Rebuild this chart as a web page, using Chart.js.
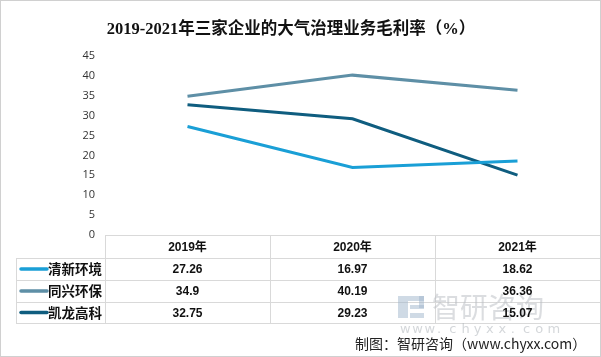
<!DOCTYPE html>
<html>
<head>
<meta charset="utf-8">
<script src="https://cdn.jsdelivr.net/npm/chart.js@4/dist/chart.umd.min.js"></script>
<style>
html,body{margin:0;padding:0;background:#fff;}
#wrap{position:relative;width:601px;height:357px;}
</style>
</head>
<body>
<div id="wrap"><canvas id="c" width="601" height="357"></canvas></div>
<script>
const titleText = '2019-2021年三家企业的大气治理业务毛利率（%）';
const categories = ['2019年', '2020年', '2021年'];
const seriesNames = ['清新环境', '同兴环保', '凯龙高科'];
const qingxin = [27.26, 16.97, 18.62];
const tongxing = [34.9, 40.19, 36.36];
const kailong = [32.75, 29.23, 15.07];
const tableLabels = [['27.26', '16.97', '18.62'], ['34.9', '40.19', '36.36'], ['32.75', '29.23', '15.07']];
const colors = ['#1a9fd6', '#5e8fa6', '#0f5d7f'];
const footerText = '制图：智研咨询（www.chyxx.com）';
const cjk = '"Noto Sans CJK SC", sans-serif';

const tablePlugin = {
  id: 'tablePlugin',
  afterDraw(chart) {
    const ctx = chart.ctx;
    const ca = chart.chartArea;
    const x = chart.scales.x;
    const left = 16, top = ca.bottom;
    const rowH = [23, 22, 22, 21];
    const ys = [top];
    rowH.forEach(h => ys.push(ys[ys.length - 1] + h));
    const colEdges = [ca.left];
    for (let i = 0; i < categories.length; i++) {
      const c = x.getPixelForValue(i);
      colEdges.push(2 * c - colEdges[colEdges.length - 1]);
    }
    ctx.save();
    // title
    ctx.fillStyle = '#111';
    ctx.font = 'bold 16.5px "Liberation Serif", ' + cjk;
    ctx.textAlign = 'center';
    ctx.textBaseline = 'middle';
    ctx.fillText(titleText, 291, 30);

    // grid of table
    ctx.strokeStyle = '#d9d9d9';
    ctx.lineWidth = 1;
    ctx.beginPath();
    ctx.moveTo(ca.left, ys[0] + 0.5); ctx.lineTo(ca.right, ys[0] + 0.5);
    for (let r = 1; r < ys.length; r++) {
      ctx.moveTo(left, ys[r] + 0.5); ctx.lineTo(ca.right, ys[r] + 0.5);
    }
    ctx.moveTo(left + 0.5, ys[1]); ctx.lineTo(left + 0.5, ys[ys.length - 1]);
    colEdges.forEach(e => { ctx.moveTo(Math.round(e) + 0.5, ys[0]); ctx.lineTo(Math.round(e) + 0.5, ys[ys.length - 1]); });
    ctx.stroke();

    // watermark
    ctx.globalAlpha = 0.5;
    ctx.fillStyle = '#9fb6cc';
    ctx.fillRect(398, 296, 10, 22);
    ctx.fillRect(408, 296, 16, 5);
    ctx.fillRect(419, 296, 5, 12);
    ctx.fillRect(410, 305, 14, 4);
    ctx.fillRect(410, 313, 14, 5);
    ctx.fillStyle = '#b8bcc2';
    ctx.font = '28px ' + cjk;
    ctx.textAlign = 'left';
    ctx.fillText('智研咨询', 432, 307);
    ctx.font = '13px "DejaVu Sans", sans-serif';
    ctx.fillStyle = '#aab0b6';
    const wm = 'www.chyxx.com';
    for (let i = 0; i < wm.length; i++) ctx.fillText(wm[i], 400 + i * 12.3, 330);
    ctx.globalAlpha = 1;

    // header
    ctx.fillStyle = '#111';
    ctx.textAlign = 'center';
    ctx.font = 'bold 12px "Liberation Sans", ' + cjk;
    categories.forEach((c, i) => ctx.fillText(c, x.getPixelForValue(i), (ys[0] + ys[1]) / 2 + 1));
    // rows
    tableLabels.forEach((row, r) => {
      const cy = (ys[r + 1] + ys[r + 2]) / 2 + 1;
      ctx.font = 'bold 12px "Liberation Sans", sans-serif';
      ctx.textAlign = 'center';
      ctx.fillStyle = '#111';
      row.forEach((v, i) => ctx.fillText(v, x.getPixelForValue(i), cy));
      ctx.strokeStyle = colors[r];
      ctx.lineWidth = 3.5;
      ctx.lineCap = 'round';
      ctx.beginPath();
      ctx.moveTo(21, cy - 1); ctx.lineTo(47, cy - 1);
      ctx.stroke();
      ctx.font = 'bold 13.5px ' + cjk;
      ctx.textAlign = 'left';
      ctx.fillText(seriesNames[r], 48, cy - 1);
    });

    // footer
    ctx.font = '14px ' + cjk;
    ctx.fillStyle = '#222';
    ctx.textAlign = 'left';
    ctx.fillText(footerText, 355, 344);

    // outer border
    ctx.strokeStyle = '#d0d0d0';
    ctx.lineWidth = 1;
    ctx.strokeRect(0.5, 0.5, 600, 356);
    ctx.restore();
  }
};

new Chart(document.getElementById('c'), {
  type: 'line',
  data: {
    labels: categories,
    datasets: [
      { label: seriesNames[0], data: qingxin, borderColor: colors[0], backgroundColor: colors[0] },
      { label: seriesNames[1], data: tongxing, borderColor: colors[1], backgroundColor: colors[1] },
      { label: seriesNames[2], data: kailong, borderColor: colors[2], backgroundColor: colors[2] }
    ]
  },
  options: {
    responsive: false,
    animation: false,
    devicePixelRatio: 1,
    layout: { padding: { top: 56, bottom: 122, left: 0, right: 1 } },
    elements: { line: { borderWidth: 3, tension: 0 }, point: { radius: 0 } },
    plugins: { legend: { display: false }, title: { display: false }, tooltip: { enabled: false } },
    scales: {
      x: { display: false, offset: true },
      y: {
        min: 0, max: 45,
        ticks: { stepSize: 5, padding: 10, color: '#333', font: { family: '"Open Sans", sans-serif', size: 11 } },
        grid: { display: false, drawTicks: false },
        border: { display: false },
        afterFit(s) { s.width = 105; }
      }
    }
  },
  plugins: [tablePlugin]
});
</script>
</body>
</html>
